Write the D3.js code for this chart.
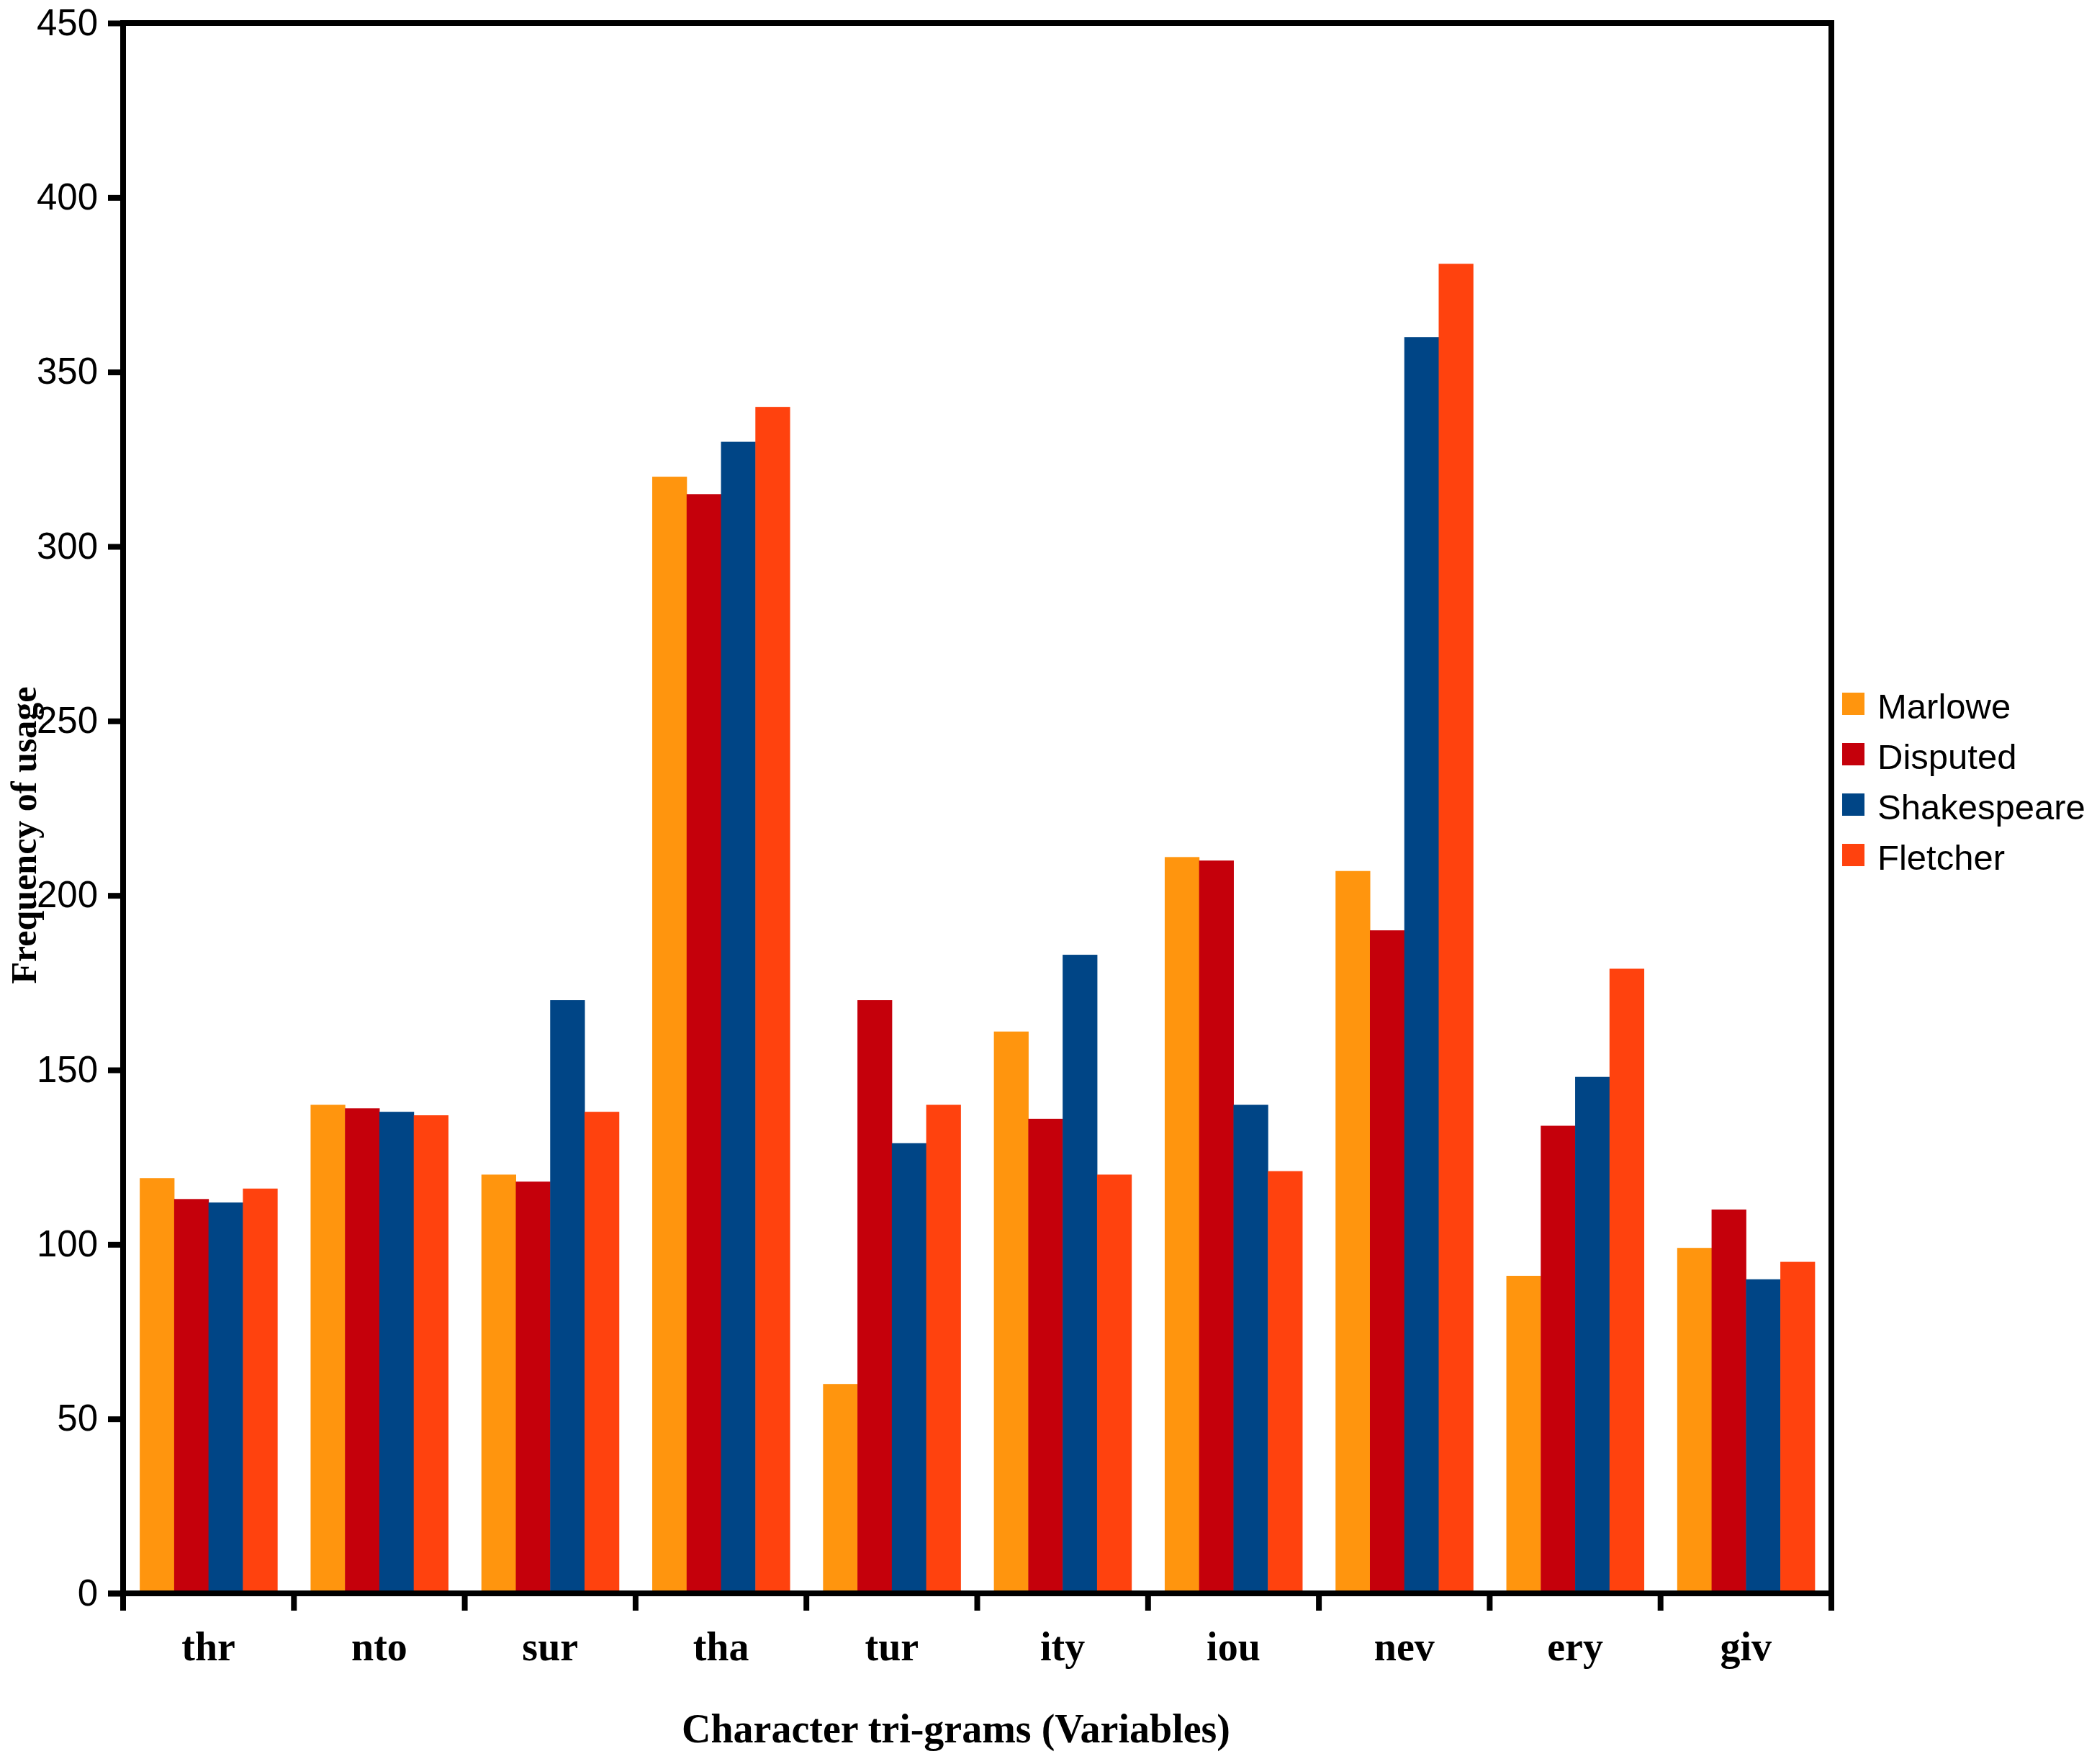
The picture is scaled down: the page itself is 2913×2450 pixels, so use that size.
<!DOCTYPE html>
<html>
<head>
<meta charset="utf-8">
<script src="https://cdn.jsdelivr.net/npm/d3@7"></script>
<style>
  body { margin: 0; background: #fff; }
</style>
</head>
<body>
<svg id="chart" width="2913" height="2450"></svg>
<script>
// Datos del gráfico
const trigramas = ["thr", "nto", "sur", "tha", "tur", "ity", "iou", "nev", "ery", "giv"];
const autores = ["Marlowe", "Disputed", "Shakespeare", "Fletcher"];
const colores = ["#ff950e", "#c5000b", "#004586", "#ff420e"];

const marlowe     = [119, 140, 120, 320,  60, 161, 211, 207,  91,  99];
const disputed    = [113, 139, 118, 315, 170, 136, 210, 190, 134, 110];
const shakespeare = [112, 138, 170, 330, 129, 183, 140, 360, 148,  90];
const fletcher    = [116, 137, 138, 340, 140, 120, 121, 381, 179,  95];

const yTicks = [0, 50, 100, 150, 200, 250, 300, 350, 400, 450];

const series = [marlowe, disputed, shakespeare, fletcher];

const svg = d3.select("#chart");
const izq = 171, der = 2544, arriba = 32, abajo = 2213;

// Escalas
const x0 = d3.scaleBand().domain(trigramas).range([izq, der])
  .paddingInner(0.195).paddingOuter(0.0975);
const x1 = d3.scaleBand().domain(autores).range([0, x0.bandwidth()]);
const y = d3.scaleLinear().domain([0, 450]).range([abajo, arriba]);
const color = d3.scaleOrdinal().domain(autores).range(colores);

// Barras
const filas = trigramas.map((t, i) => ({
  t, vals: autores.map((a, j) => ({ a, v: series[j][i] }))
}));

svg.append("g").selectAll("g")
  .data(filas)
  .join("g")
  .attr("transform", d => `translate(${x0(d.t)},0)`)
  .selectAll("rect")
  .data(d => d.vals)
  .join("rect")
  .attr("x", d => x1(d.a))
  .attr("width", x1.bandwidth() + 0.5)
  .attr("y", d => y(d.v))
  .attr("height", d => y(0) - y(d.v) + 2)
  .attr("fill", d => color(d.a));

// Eje Y
const yAxis = svg.append("g")
  .attr("transform", `translate(${izq},0)`)
  .call(d3.axisLeft(y).tickValues(yTicks).tickSize(21).tickPadding(14));
yAxis.select(".domain").remove();
yAxis.selectAll(".tick line").attr("stroke", "#000").attr("stroke-width", 8);
yAxis.selectAll(".tick text")
  .attr("font-family", "Liberation Sans, Arial, sans-serif")
  .attr("font-size", 51)
  .attr("fill", "#000");

// Eje X (marcas entre categorías)
const limites = trigramas.map(t => x0(t) - x0.step() * x0.paddingInner() / 2)
  .concat([der]);
limites[0] = izq;
svg.append("g").selectAll("line")
  .data(limites)
  .join("line")
  .attr("x1", d => d).attr("x2", d => d)
  .attr("y1", abajo).attr("y2", abajo + 24)
  .attr("stroke", "#000").attr("stroke-width", 8);

svg.append("g").selectAll("text")
  .data(trigramas)
  .join("text")
  .attr("x", d => x0(d) + x0.bandwidth() / 2)
  .attr("y", 2306)
  .attr("text-anchor", "middle")
  .attr("font-family", "Liberation Serif, Times New Roman, serif")
  .attr("font-weight", "bold")
  .attr("font-size", 56)
  .text(d => d);

// Marco
svg.append("path")
  .attr("d", `M${izq},${abajo}V${arriba}H${der}V${abajo}`)
  .attr("fill", "none").attr("stroke", "#000").attr("stroke-width", 8)
  .attr("stroke-linecap", "square");
svg.append("line")
  .attr("x1", 150).attr("x2", der + 4)
  .attr("y1", abajo).attr("y2", abajo)
  .attr("stroke", "#000").attr("stroke-width", 8);

// Títulos de ejes
svg.append("text")
  .attr("x", 1328).attr("y", 2420)
  .attr("text-anchor", "middle")
  .attr("font-family", "Liberation Serif, Times New Roman, serif")
  .attr("font-weight", "bold")
  .attr("font-size", 56)
  .text("Character tri-grams (Variables)");

svg.append("text")
  .attr("transform", "translate(50,1160) rotate(-90)")
  .attr("text-anchor", "middle")
  .attr("font-family", "Liberation Serif, Times New Roman, serif")
  .attr("font-weight", "bold")
  .attr("font-size", 50)
  .text("Frequency of usage");

// Leyenda
const leyenda = svg.append("g").selectAll("g")
  .data(autores)
  .join("g")
  .attr("transform", (d, i) => `translate(2559,${962 + i * 70})`);
leyenda.append("rect")
  .attr("width", 31).attr("height", 31)
  .attr("fill", d => color(d));
leyenda.append("text")
  .attr("x", 49).attr("y", 36)
  .attr("font-family", "Liberation Sans, Arial, sans-serif")
  .attr("font-size", 49)
  .text(d => d);
</script>
</body>
</html>
